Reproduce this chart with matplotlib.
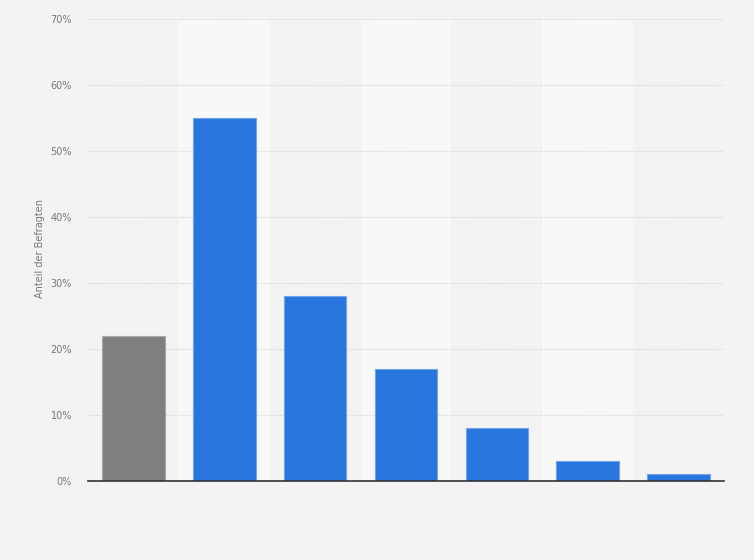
import numpy as np
import matplotlib.pyplot as plt

categories = ["A", "B", "C", "D", "E", "F", "G"]
values = [22, 55, 28, 17, 8, 3, 1]
bar_colors = ["#7f7f7f", "#2876dd", "#2876dd", "#2876dd", "#2876dd", "#2876dd", "#2876dd"]
edge_colors = ["#a8a8a8", "#6fa3ea", "#6fa3ea", "#6fa3ea", "#6fa3ea", "#6fa3ea", "#6fa3ea"]
yticks = [0, 10, 20, 30, 40, 50, 60, 70]
ytick_labels = [f"{t}%" for t in yticks]

W, H = 754, 560
fig = plt.figure(figsize=(W / 100, H / 100), dpi=100)
fig.patch.set_facecolor("#f3f3f3")

ax = fig.add_axes([88 / W, (H - 481) / H, (724 - 88) / W, (481 - 19) / H])
ax.set_facecolor("#f3f3f3")

x = np.arange(len(categories))
# alternating column bands
for i in x:
    if i % 2 == 1:
        ax.axvspan(i - 0.5, i + 0.5, color="#f8f8f8", zorder=0, lw=0)

for t in yticks[1:]:
    ax.axhline(t, color="#cfcfcf", lw=0.8, ls=(0, (1, 1.5)), zorder=1)

ax.bar(x, values, width=0.69, color=bar_colors, edgecolor=edge_colors,
       linewidth=0.8, zorder=2)

ax.set_xlim(-0.5, len(categories) - 0.5)
ax.set_ylim(0, 70)
ax.set_yticks(yticks)
ax.set_yticklabels(ytick_labels, fontsize=7, color="#777777")
ax.set_xticks([])
ax.tick_params(axis="y", length=0, pad=11.5)

for s in ["top", "right", "left"]:
    ax.spines[s].set_visible(False)
ax.spines["bottom"].set_color("#333333")
ax.spines["bottom"].set_linewidth(1.2)
ax.spines["bottom"].set_zorder(3)

fig.text(40 / W, (H - 249) / H, "Anteil der Befragten", rotation=90, fontsize=7,
         color="#777777", ha="center", va="center")

fig.savefig("out.png", dpi=100, facecolor=fig.get_facecolor())
